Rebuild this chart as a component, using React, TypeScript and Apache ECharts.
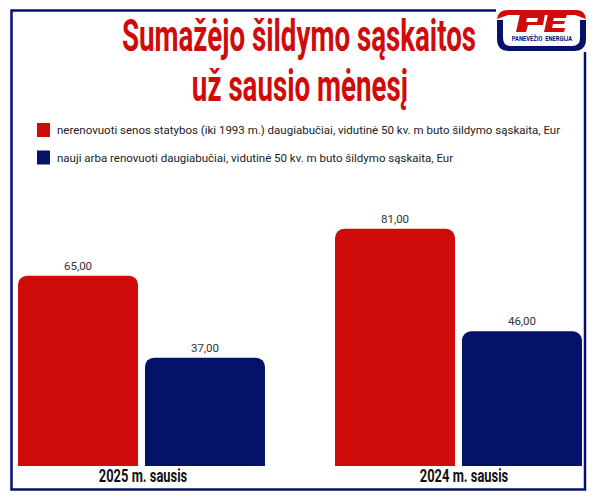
import React, { useEffect, useRef } from 'react';
import * as echarts from 'echarts';

const categories = ['2025 m. sausis', '2024 m. sausis'];
const oldBuildings = [65, 81];
const newBuildings = [37, 46];
const seriesNames = [
  'nerenovuoti senos statybos (iki 1993 m.) daugiabučiai, vidutinė 50 kv. m buto šildymo sąskaita, Eur',
  'nauji arba renovuoti daugiabučiai, vidutinė 50 kv. m buto šildymo sąskaita, Eur',
];
const titleLines = ['Sumažėjo šildymo sąskaitos', 'už sausio mėnesį'];

const RED = '#d00c0a';
const NAVY = '#05126a';

// logo: navy "U" shape, red roof and the PE letters
echarts.graphic.registerShape(
  'logoU',
  echarts.graphic.extendPath(
    'M497 20 L503 20 L503 38 Q503 46 511 46 L572 46 Q580 46 580 38 L580 20 L586 20 L586 39 Q586 51 574 51 L509 51 Q497 51 497 39 Z',
    {}
  )
);
echarts.graphic.registerShape(
  'logoRoof',
  echarts.graphic.extendPath('M497 19 Q498 10 508 10 L576 10 Q585 10 586 19 L575 15 L508 15 Z', {})
);
echarts.graphic.registerShape(
  'logoPE',
  echarts.graphic.extendPath(
    'M520 14 L545 14 L543 25 L528 25 L526 32 L516 32 Z M527 18 L526 22 L537 22 L538 18 Z ' +
      'M548 14 L567 14 L566 18 L554 18 L553 21 L565 21 L564 24 L553 24 L552 28 L565 28 L564 32 L544 32 Z',
    {}
  )
);

const condensedText = (text: string, x: number, y: number, fontSize: number, scaleX: number, fill: string) => ({
  type: 'text',
  x,
  y,
  scaleX,
  style: {
    text,
    fontFamily: 'Roboto',
    fontWeight: 'bold',
    fontSize,
    fill,
    align: 'center',
    verticalAlign: 'middle',
  },
});

export default function App() {
  const chartRef = useRef<HTMLDivElement>(null);

  useEffect(() => {
    document.body.style.margin = '0';
    if (!chartRef.current) return;
    const chart = echarts.init(chartRef.current, undefined, { renderer: 'svg' });

    const valueLabel = {
      show: true,
      position: 'top' as const,
      distance: 4,
      fontFamily: 'Roboto',
      fontSize: 11.5,
      color: '#333',
      formatter: (p: any) => p.value.toFixed(2).replace('.', ','),
    };

    chart.setOption({
      animation: false,
      backgroundColor: '#fff',
      legend: {
        orient: 'vertical',
        left: 32,
        top: 118,
        itemWidth: 13,
        itemHeight: 14,
        itemGap: 13.5,
        icon: 'rect',
        selectedMode: false,
        textStyle: { fontFamily: 'Roboto', fontSize: 11.5, color: '#222', padding: [0, 0, 0, 2] },
      },
      grid: { left: -17, width: 634, top: 100, bottom: 37, outerBoundsMode: 'none' },
      xAxis: {
        type: 'category',
        data: categories,
        axisLine: { show: false },
        axisTick: { show: false },
        axisLabel: { show: false },
      },
      yAxis: { type: 'value', min: 0, max: 125, show: false },
      series: [
        {
          name: seriesNames[0],
          type: 'bar',
          data: oldBuildings,
          barWidth: 120,
          barGap: '5.8%',
          itemStyle: { color: RED, borderRadius: [9, 9, 0, 0] },
          label: valueLabel,
        },
        {
          name: seriesNames[1],
          type: 'bar',
          data: newBuildings,
          barWidth: 120,
          itemStyle: { color: NAVY, borderRadius: [9, 9, 0, 0] },
          label: valueLabel,
        },
      ],
      graphic: [
        {
          type: 'polyline',
          shape: { points: [[496, 10.5], [11.5, 10.5], [11.5, 489.5], [585, 489.5], [585, 52]] },
          style: { stroke: NAVY, lineWidth: 2.5, fill: 'none' },
        },
        condensedText(titleLines[0], 299, 36, 44, 0.63, RED),
        condensedText(titleLines[1], 300, 86, 44, 0.63, RED),
        condensedText(categories[0], 143, 476, 19, 0.68, '#111'),
        condensedText(categories[1], 464, 476, 19, 0.68, '#111'),
        { type: 'logoU', style: { fill: NAVY } },
        { type: 'logoRoof', style: { fill: RED } },
        { type: 'logoPE', style: { fill: RED } },
        condensedText('PANEVĖŽIO  ENERGIJA', 542, 39, 8, 0.72, NAVY),
      ],
    });

    return () => chart.dispose();
  }, []);

  return <div ref={chartRef} style={{ width: 600, height: 503 }} />;
}
